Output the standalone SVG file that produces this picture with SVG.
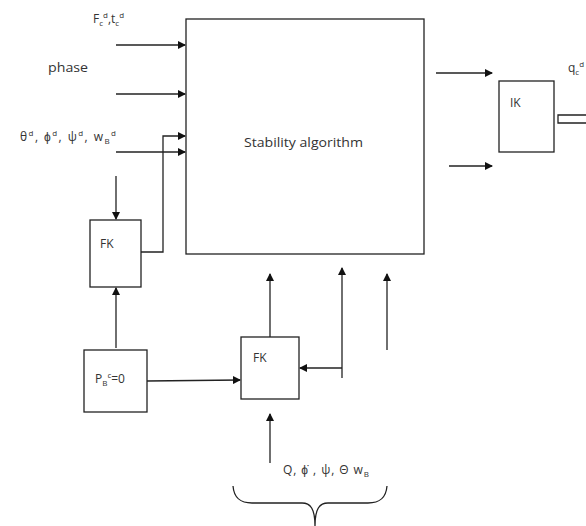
<svg xmlns="http://www.w3.org/2000/svg" width="586" height="526" viewBox="0 0 586 526">
<defs>
<marker id="ah" markerWidth="8" markerHeight="8" refX="7" refY="4" orient="auto" markerUnits="userSpaceOnUse">
<path d="M0,0 L8,4 L0,8 z" fill="#111"/>
</marker>
</defs>
<style>
.box{fill:#fff;stroke:#222;stroke-width:1.3}
.ln{fill:none;stroke:#222;stroke-width:1.3}
.ar{fill:none;stroke:#222;stroke-width:1.3;marker-end:url(#ah)}
text{font-family:"Open Sans","Liberation Sans",sans-serif;font-size:12px;fill:#333}
.s{font-size:8px}
</style>
<rect width="586" height="526" fill="#fff"/>
<g id="stability">
<rect class="box" x="186" y="19" width="238" height="235"/>
<text x="244" y="147" textLength="119" lengthAdjust="spacingAndGlyphs">Stability algorithm</text>
</g>
<g id="ik">
<rect class="box" x="499" y="81" width="55" height="71"/>
<text x="510" y="107">IK</text>
</g>
<g id="fk1">
<rect class="box" x="90" y="220" width="51" height="67"/>
<text x="100" y="248">FK</text>
</g>
<g id="pb">
<rect class="box" x="84" y="350" width="63" height="62"/>
<text x="95" y="383">P<tspan class="s" dy="3">B</tspan><tspan class="s" dy="-8">c</tspan><tspan dy="5">=0</tspan></text>
</g>
<g id="fk2">
<rect class="box" x="241" y="337" width="58" height="62"/>
<text x="253" y="362">FK</text>
</g>
<g id="labels">
<text x="93" y="23">F<tspan class="s" dy="3">c</tspan><tspan class="s" dy="-8">d</tspan><tspan dy="5">,t</tspan><tspan class="s" dy="3">c</tspan><tspan class="s" dy="-8">d</tspan></text>
<text x="48" y="72" textLength="40" lengthAdjust="spacingAndGlyphs">phase</text>
<text x="20" y="141" textLength="96" lengthAdjust="spacing">θ<tspan class="s" dy="-5">d</tspan><tspan dy="5">, ϕ</tspan><tspan class="s" dy="-5">d</tspan><tspan dy="5">, ψ</tspan><tspan class="s" dy="-5">d</tspan><tspan dy="5">, w</tspan><tspan class="s" dy="3">B</tspan><tspan class="s" dy="-8">d</tspan></text>
<text x="283" y="474" textLength="86" lengthAdjust="spacing">Q, ϕ̇ , ψ, Θ w<tspan class="s" dy="3">B</tspan></text>
<text x="568" y="72">q<tspan class="s" dy="3">c</tspan><tspan class="s" dy="-8">d</tspan></text>
</g>
<g id="connectors">
<line class="ar" x1="116" y1="45" x2="185" y2="45"/>
<line class="ar" x1="116" y1="94" x2="185" y2="94"/>
<line class="ar" x1="116" y1="152" x2="185" y2="152"/>
<polyline class="ar" points="141,252 163,252 163,136 185,136"/>
<line class="ar" x1="116" y1="176" x2="116" y2="219"/>
<line class="ar" x1="116" y1="348" x2="116" y2="288"/>
<line class="ar" x1="147" y1="381" x2="240" y2="380"/>
<line class="ar" x1="270" y1="337" x2="270" y2="274"/>
<line class="ar" x1="342" y1="378" x2="342" y2="268"/>
<line class="ar" x1="342" y1="368" x2="300" y2="368"/>
<line class="ar" x1="387" y1="350" x2="387" y2="274"/>
<line class="ar" x1="270" y1="463" x2="270" y2="414"/>
<line class="ar" x1="436" y1="73" x2="492" y2="73"/>
<line class="ar" x1="449" y1="166" x2="492" y2="166"/>
<path class="ln" d="M586,115 L562,115 L558,115 L558,123 L586,123"/>
<path class="ln" d="M233,486 C234,498 240,503 252,503 L302,503 C310,503 315,508 315,526 M315,526 C315,508 320,503 328,503 L368,503 C380,503 386,498 387,486"/>
</g>
</svg>
